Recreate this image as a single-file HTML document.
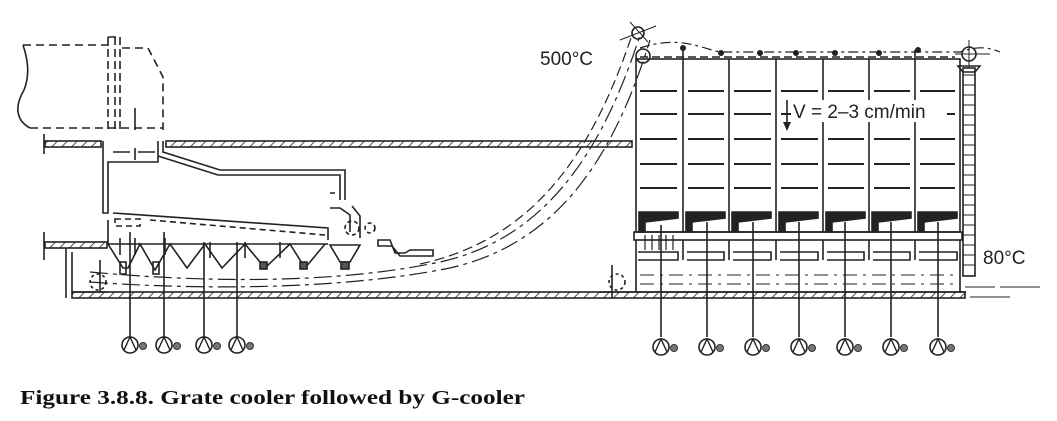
<!DOCTYPE html>
<html><head><meta charset="utf-8"><style>
html,body{margin:0;padding:0;background:#fff;}
svg{display:block}
</style></head><body>
<svg width="1057" height="421" viewBox="0 0 1057 421" xmlns="http://www.w3.org/2000/svg">
<defs>
<pattern id="h" width="7" height="7" patternUnits="userSpaceOnUse" patternTransform="rotate(45)">
<line x1="0" y1="0" x2="0" y2="7" stroke="#222" stroke-width="1.6"/>
</pattern>
<g id="fan"><circle cx="0" cy="0" r="8" fill="#fff" stroke="#222" stroke-width="1.6"/><path d="M-6,5 L0,-8 L6,5" fill="none" stroke="#222" stroke-width="1.4"/><circle cx="13" cy="1" r="3.5" fill="#777" stroke="#333"/></g>
</defs>
<g fill="none" stroke="#222" stroke-width="1.6">
<path d="M23,45 L110,45 M122,48 L148,48 L163,77 L163,130 M30,128 L163,128" stroke-dasharray="8,5"/>
<path d="M23,45 C28,60 30,75 24,90 C15,105 15,120 30,128"/>
<path d="M108,37 L108,130 M115,37 L115,130 M108,37 L120,37 L120,130" stroke-dasharray="8,4"/>
<line x1="135" y1="108" x2="135" y2="130"/>
<rect x="45" y="141" width="56" height="6" fill="url(#h)"/>
<rect x="166" y="141" width="466" height="6" fill="url(#h)"/>
<line x1="44" y1="134" x2="44" y2="154"/>
<rect x="45" y="242" width="62" height="6" fill="url(#h)"/>
<line x1="44" y1="232" x2="44" y2="260"/>
<path d="M103,141 L103,213 L108,213 L108,162 L158,162 L158,141"/>
<path d="M163,141 L163,152 L220,170 L345,170 L345,200 M158,156 L218,175 L340,175 L340,200"/>
<path d="M113,152 L130,152 M138,152 L155,152 M135,148 L135,160"/>
<path d="M66,248 L66,298 M72,252 L72,292 L108,292"/>
<rect x="72" y="292" width="893" height="6" fill="url(#h)"/>
<path d="M113,213 L328,228 L328,240 M108,220 L108,244 L328,244"/>
<path d="M115,219 L140,219 L140,226 L115,226 Z M150,220 L325,235" stroke-dasharray="6,4"/>
<path d="M108,244 L123,268 L128,268 L140,244 L155,270 L170,244 L187,268 L205,244 L222,268 L245,244 L265,268 L290,244 L305,268 L325,244"/>
<path d="M120,255 L120,238 M135,255 L135,238 M165,255 L165,238 M210,242 L210,258 M245,242 L245,258 M280,242 L280,258"/>
<rect x="120" y="262" width="6" height="12"/><rect x="153" y="262" width="6" height="12"/>
<path d="M330,245 L360,245 L350,262 L340,262 Z"/>
<rect x="341" y="262" width="8" height="7" fill="#555"/>
<rect x="260" y="262" width="7" height="7" fill="#555"/><rect x="300" y="262" width="7" height="7" fill="#555"/>
<path d="M330,193 L335,193 M330,208 L340,208 L350,215 L350,232 M352,206 L360,216 L360,238"/>
<circle cx="352" cy="228" r="7" stroke-dasharray="4,3"/>
<circle cx="370" cy="228" r="5" stroke-dasharray="4,3"/>
<path d="M378,240 L390,240 L395,253 L405,253 L410,250 L433,250 L433,256 L400,256 L392,246 L378,246 Z"/>
<path d="M90,272 C200,282 330,285 440,262 C540,240 600,160 640,35" stroke-dasharray="18,5,4,5" stroke-width="1.2"/>
<path d="M90,282 C200,290 340,290 450,268 C550,245 610,170 650,40" stroke-dasharray="18,5,4,5" stroke-width="1.2"/>
<path d="M420,264 C530,240 590,160 632,35" stroke-dasharray="10,5" stroke-width="1.2"/>
<path d="M100,260 L100,292"/><circle cx="98" cy="282" r="8" stroke-dasharray="3,3"/>
<path d="M130,232 L130,337 M164,232 L164,337 M204,242 L204,337 M237,242 L237,337"/>
<rect x="636" y="59" width="324" height="173"/>
<path d="M683,50 L683,232 M729,59 L729,232 M776,59 L776,232 M823,59 L823,232 M869,59 L869,232 M915,50 L915,232"/>
<path d="M640,48 C680,35 700,48 720,52 L960,52 C980,45 990,48 1000,52" stroke-dasharray="10,4,3,4" stroke-width="1.2"/>
<path d="M640,57 L955,57" stroke-dasharray="8,4"/>
<line x1="600" y1="292" x2="966" y2="292"/>
<g stroke-width="2">
<path d="M640,91 L677,91 M688,91 L724,91 M734,91 L771,91 M781,91 L818,91 M828,91 L864,91 M874,91 L910,91 M920,91 L955,91"/>
<path d="M640,114 L677,114 M688,114 L724,114 M734,114 L771,114 M781,114 L818,114 M828,114 L864,114 M874,114 L910,114 M920,114 L955,114"/>
<path d="M640,139 L677,139 M688,139 L724,139 M734,139 L771,139 M781,139 L818,139 M828,139 L864,139 M874,139 L910,139 M920,139 L955,139"/>
<path d="M640,164 L677,164 M688,164 L724,164 M734,164 L771,164 M781,164 L818,164 M828,164 L864,164 M874,164 L910,164 M920,164 L955,164"/>
<path d="M640,188 L677,188 M688,188 L724,188 M734,188 L771,188 M781,188 L818,188 M828,188 L864,188 M874,188 L910,188 M920,188 L955,188"/>
</g>
<g fill="#222">
<path d="M639,212 L678,212 L678,218 L645,222 L645,232 L639,232 Z"/>
<path d="M686,212 L725,212 L725,218 L692,222 L692,232 L686,232 Z"/>
<path d="M732,212 L771,212 L771,218 L738,222 L738,232 L732,232 Z"/>
<path d="M779,212 L818,212 L818,218 L785,222 L785,232 L779,232 Z"/>
<path d="M826,212 L865,212 L865,218 L832,222 L832,232 L826,232 Z"/>
<path d="M872,212 L911,212 L911,218 L878,222 L878,232 L872,232 Z"/>
<path d="M918,212 L957,212 L957,218 L924,222 L924,232 L918,232 Z"/>
</g>
<rect x="634" y="232" width="328" height="8"/>
<path d="M638,252 L678,252 L678,260 L638,260 M687,252 L724,252 L724,260 L687,260 M733,252 L771,252 L771,260 L733,260 M780,252 L818,252 L818,260 L780,260 M827,252 L864,252 L864,260 L827,260 M873,252 L910,252 L910,260 L873,260 M919,252 L957,252 L957,260 L919,260"/>
<path d="M636,240 L636,292 M683,240 L683,260 M729,240 L729,260 M776,240 L776,260 M823,240 L823,260 M869,240 L869,260 M915,240 L915,260 M960,240 L960,292"/>
<path d="M640,275 L955,275 M640,284 L955,284" stroke-dasharray="14,6,3,6" stroke-width="1"/>
<path d="M612,265 L612,298"/><circle cx="617" cy="282" r="8" stroke-dasharray="3,3"/>
<rect x="963" y="68" width="12" height="208"/>
<path d="M963,75 L975,75 M963,85 L975,85 M963,95 L975,95 M963,105 L975,105 M963,115 L975,115 M963,125 L975,125 M963,135 L975,135 M963,145 L975,145 M963,155 L975,155 M963,165 L975,165 M963,175 L975,175 M963,185 L975,185 M963,195 L975,195 M963,205 L975,205 M963,215 L975,215 M963,225 L975,225 M963,235 L975,235 M963,245 L975,245 M963,255 L975,255 M963,265 L975,265" stroke-width="1"/>
<path d="M958,66 L980,66 L975,72 L963,72 Z"/>
<circle cx="969" cy="54" r="7"/><path d="M969,40 L969,68 M955,54 L990,54" stroke-width="1"/>
<circle cx="643" cy="56" r="7"/>
<circle cx="638" cy="33" r="6"/><path d="M630,22 L648,42 M620,40 L656,26" stroke-width="1"/>
<path d="M965,287 L995,287 M1000,287 L1040,287 M970,297 L1010,297" stroke-width="1"/>
<path d="M661,225 L661,337 M707,222 L707,337 M753,222 L753,337 M799,222 L799,337 M845,222 L845,337 M891,222 L891,337 M938,222 L938,337"/>
<path d="M645,235 L645,250 M652,235 L652,250 M659,235 L659,250 M666,235 L666,250 M673,235 L673,250" stroke-width="1.2"/>
</g>
<rect x="791" y="100" width="156" height="22" fill="#fff"/>
<path d="M787,100 L787,128" stroke="#222" stroke-width="1.6"/>
<g fill="#222">
<circle cx="683" cy="48" r="3"/><circle cx="721" cy="53" r="3"/><circle cx="760" cy="53" r="3"/><circle cx="796" cy="53" r="3"/><circle cx="835" cy="53" r="3"/><circle cx="879" cy="53" r="3"/><circle cx="918" cy="50" r="3"/>
<path d="M783,122 L791,122 L787,131 Z"/>
</g>
<use href="#fan" x="130" y="345"/><use href="#fan" x="164" y="345"/><use href="#fan" x="204" y="345"/><use href="#fan" x="237" y="345"/>
<use href="#fan" x="661" y="347"/><use href="#fan" x="707" y="347"/><use href="#fan" x="753" y="347"/><use href="#fan" x="799" y="347"/><use href="#fan" x="845" y="347"/><use href="#fan" x="891" y="347"/><use href="#fan" x="938" y="347"/>
<g font-family="Liberation Sans, sans-serif" font-size="19" fill="#222">
<text x="540" y="65">500°C</text>
<text x="793" y="118">V = 2–3 cm/min</text>
<text x="983" y="264">80°C</text>
</g>
<text x="20" y="404" font-family="Liberation Serif, serif" font-weight="bold" font-size="20" fill="#111" textLength="505" lengthAdjust="spacingAndGlyphs">Figure 3.8.8. Grate cooler followed by G-cooler</text>
</svg>
</body></html>
